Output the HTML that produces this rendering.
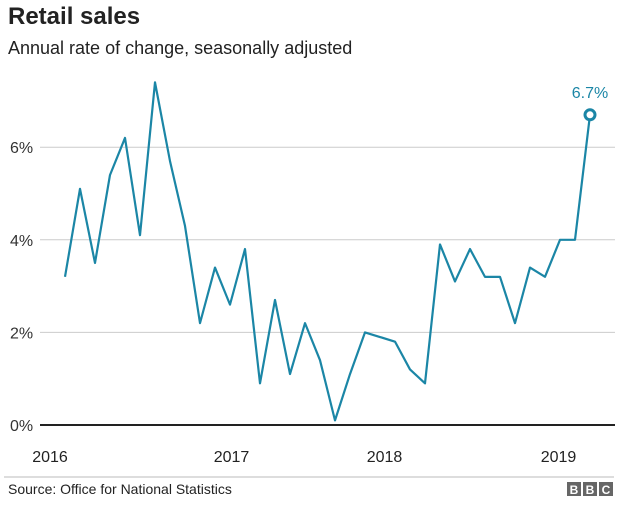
<!DOCTYPE html>
<html><head><meta charset="utf-8"><style>
body{margin:0;background:#fff;font-family:"Liberation Sans",Arial,sans-serif;}
svg text{font-family:"Liberation Sans",Arial,sans-serif;}
</style></head><body>
<svg width="633" height="504" id="chart">
<text x="8" y="24" font-size="24" font-weight="bold" fill="#222">Retail sales</text>
<text x="8" y="54" font-size="18" fill="#222">Annual rate of change, seasonally adjusted</text>
<g id="grid"></g><g id="xlab"></g>
<path id="line" fill="none" stroke="#1b86a6" stroke-width="2.2" stroke-linejoin="round"/>
<g id="last"></g>
<line x1="4" y1="477" x2="614" y2="477" stroke="#bbb"/>
<text x="8" y="494" font-size="14" fill="#222">Source: Office for National Statistics</text>
<g>
<rect x="567" y="482" width="14" height="14" fill="#666"/><text x="574" y="494" font-size="12" font-weight="bold" fill="#fff" text-anchor="middle">B</text>
<rect x="583" y="482" width="14" height="14" fill="#666"/><text x="590" y="494" font-size="12" font-weight="bold" fill="#fff" text-anchor="middle">B</text>
<rect x="599" y="482" width="14" height="14" fill="#666"/><text x="606" y="494" font-size="12" font-weight="bold" fill="#fff" text-anchor="middle">C</text>
</g>
</svg>
<script>
const values=[3.2,5.1,3.5,5.4,6.2,4.1,7.4,5.7,4.3,2.2,3.4,2.6,3.8,0.9,2.7,1.1,2.2,1.4,0.1,1.1,2.0,1.9,1.8,1.2,0.9,3.9,3.1,3.8,3.2,3.2,2.2,3.4,3.2,4.0,4.0,6.7];
const yTicks=[0,2,4,6];
const yTickLabels=["0%","2%","4%","6%"];
const xTickLabels=["2016","2017","2018","2019"];
const xTickIdx=[-1,11.1,21.3,32.9];
const lastLabel="6.7%";
const NS="http://www.w3.org/2000/svg";
const xS=i=>65+i*15, yS=v=>425-v*46.3;
const grid=document.getElementById('grid');
yTicks.forEach((t,k)=>{
 const l=document.createElementNS(NS,'line');
 l.setAttribute('x1',40);l.setAttribute('x2',615);l.setAttribute('y1',yS(t));l.setAttribute('y2',yS(t));
 l.setAttribute('stroke',t===0?'#222':'#ccc');l.setAttribute('stroke-width',t===0?2:1);
 
 
 grid.appendChild(l);
 const tx=document.createElementNS(NS,'text');
 tx.setAttribute('x',10);tx.setAttribute('y',yS(t)+6);tx.setAttribute('font-size',16);tx.setAttribute('fill','#333');
 tx.textContent=yTickLabels[k];
 
 
 grid.appendChild(tx);
});
const xl=document.getElementById('xlab');
xTickLabels.forEach((s,k)=>{
 const tx=document.createElementNS(NS,'text');
 tx.setAttribute('x',xS(xTickIdx[k]));tx.setAttribute('y',462);tx.setAttribute('font-size',16);tx.setAttribute('fill','#222');tx.setAttribute('text-anchor','middle');
 tx.textContent=s;
 
 
 xl.appendChild(tx);
});
document.getElementById('line').setAttribute('d',values.map((v,i)=>(i?'L':'M')+xS(i)+','+yS(v)).join(''));
const n=values.length-1, g=document.getElementById('last');
const c=document.createElementNS(NS,'circle');
c.setAttribute('cx',xS(n));c.setAttribute('cy',yS(values[n]));c.setAttribute('r',5);c.setAttribute('fill','#fff');c.setAttribute('stroke','#1b86a6');c.setAttribute('stroke-width',3);


g.appendChild(c);
const lt=document.createElementNS(NS,'text');
lt.setAttribute('x',xS(n));lt.setAttribute('y',yS(values[n])-17);lt.setAttribute('font-size',16);lt.setAttribute('fill','#1b86a6');lt.setAttribute('text-anchor','middle');
lt.textContent=lastLabel;


g.appendChild(lt);
</script>
</body></html>
